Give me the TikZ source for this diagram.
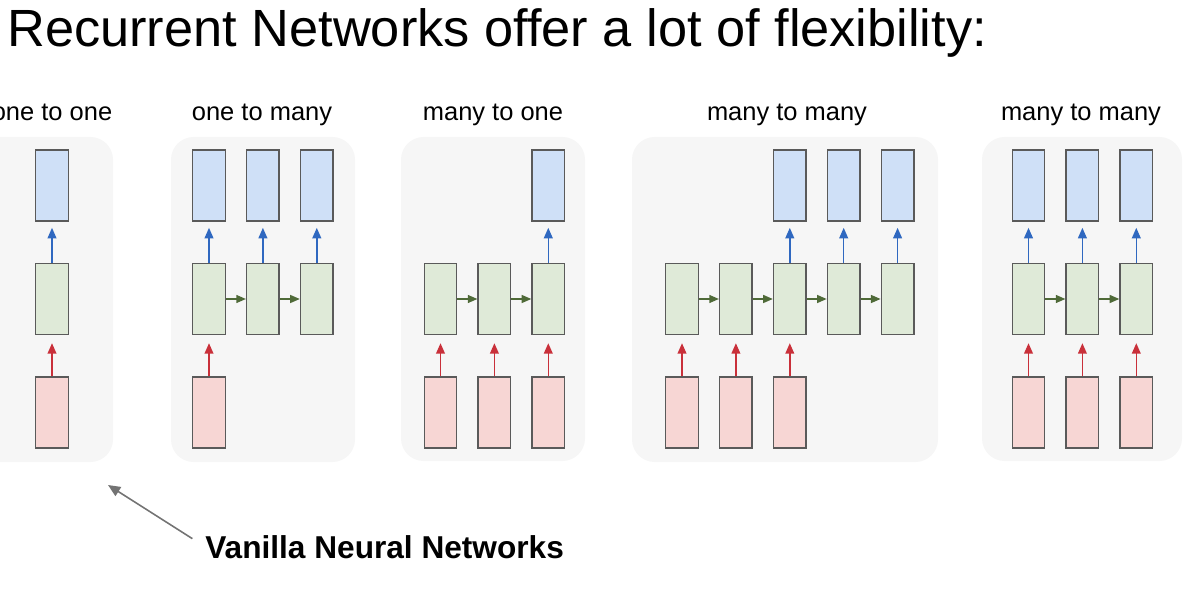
\documentclass[tikz,border=0pt]{standalone}
\usepackage{fontspec}
\setmainfont{Liberation Sans}
\usetikzlibrary{arrows.meta, positioning}

\definecolor{outblue}{HTML}{CFE0F7}
\definecolor{hidgreen}{HTML}{DFEAD8}
\definecolor{inred}{HTML}{F7D6D4}
\definecolor{panelgray}{HTML}{F6F6F6}
\definecolor{boxline}{HTML}{5A5A5A}
\definecolor{arrred}{HTML}{C9303A}
\definecolor{arrblue}{HTML}{2F68C0}
\definecolor{arrgreen}{HTML}{4F6A38}
\definecolor{pointgray}{HTML}{737373}

\begin{document}
\begin{tikzpicture}[x=0.02cm, y=-0.02cm, node distance=0.82cm and 0.4cm,
    cell/.style={rectangle, draw=boxline, line width=0.8pt, minimum width=0.65cm, minimum height=1.42cm, inner sep=0pt},
    outbox/.style={cell, fill=outblue},
    hidbox/.style={cell, fill=hidgreen},
    inbox/.style={cell, fill=inred},
    panel/.style={fill=panelgray, rounded corners=0.45cm},
    xarrow/.style={-{Triangle[length=6pt, width=5pt]}, line width=0.9pt, draw=arrred, shorten >=0.16cm},
    yarrow/.style={-{Triangle[length=6pt, width=5pt]}, line width=0.9pt, draw=arrblue, shorten >=0.12cm},
    harrow/.style={-{Triangle[length=5.5pt, width=4.5pt]}, line width=0.9pt, draw=arrgreen},
    head/.style={font=\fontsize{14.5}{17}\selectfont, anchor=base, inner sep=0pt}]
    \useasboundingbox (0,0) rectangle (1196,594);

    \node[anchor=base west, inner sep=0pt, font=\fontsize{29.8}{34}\selectfont] (title) at (7,47) {Recurrent Networks offer a lot of flexibility:};

    % background panels
    \fill[panel] (-30,137) rectangle (113,462);
    \fill[panel] (171,137) rectangle (355,462);
    \fill[panel] (401,137) rectangle (585,461);
    \fill[panel] (632,137) rectangle (938,462);
    \fill[panel] (982,137) rectangle (1182,461);

    % one to one
    \node[head] (t-a) at (52,121) {one to one};
    \node[hidbox] (a-h1) at (52,299) {};
    \node[outbox, above=of a-h1] (a-y1) {};
    \node[inbox, below=of a-h1] (a-x1) {};
    \draw[xarrow] (a-x1) -- (a-h1);
    \draw[yarrow] (a-h1) -- (a-y1);

    % one to many
    \node[head] (t-b) at (262,121) {one to many};
    \node[hidbox] (b-h1) at (209,299) {};
    \foreach \i [count=\j from 2] in {1,2}
        \node[hidbox, right=of b-h\i] (b-h\j) {};
    \foreach \i in {1,2,3} {
        \node[outbox, above=of b-h\i] (b-y\i) {};
        \draw[yarrow] (b-h\i) -- (b-y\i);
    }
    \node[inbox, below=of b-h1] (b-x1) {};
    \draw[xarrow] (b-x1) -- (b-h1);
    \foreach \i [count=\j from 2] in {1,2}
        \draw[harrow] (b-h\i) -- (b-h\j);

    % many to one
    \node[head] (t-c) at (493,121) {many to one};
    \node[hidbox] (c-h1) at (440.5,299) {};
    \foreach \i [count=\j from 2] in {1,2}
        \node[hidbox, right=of c-h\i] (c-h\j) {};
    \foreach \i in {1,2,3} {
        \node[inbox, below=of c-h\i] (c-x\i) {};
        \draw[xarrow] (c-x\i) -- (c-h\i);
    }
    \node[outbox, above=of c-h3] (c-y3) {};
    \draw[yarrow] (c-h3) -- (c-y3);
    \foreach \i [count=\j from 2] in {1,2}
        \draw[harrow] (c-h\i) -- (c-h\j);

    % many to many (delayed)
    \node[head] (t-d) at (787,121) {many to many};
    \node[hidbox] (d-h1) at (682,299) {};
    \foreach \i [count=\j from 2] in {1,...,4}
        \node[hidbox, right=of d-h\i] (d-h\j) {};
    \foreach \i in {1,2,3} {
        \node[inbox, below=of d-h\i] (d-x\i) {};
        \draw[xarrow] (d-x\i) -- (d-h\i);
    }
    \foreach \i in {3,4,5} {
        \node[outbox, above=of d-h\i] (d-y\i) {};
        \draw[yarrow] (d-h\i) -- (d-y\i);
    }
    \foreach \i [count=\j from 2] in {1,...,4}
        \draw[harrow] (d-h\i) -- (d-h\j);

    % many to many (synced)
    \node[head] (t-e) at (1081,121) {many to many};
    \node[hidbox] (e-h1) at (1028.5,299) {};
    \foreach \i [count=\j from 2] in {1,2}
        \node[hidbox, right=of e-h\i] (e-h\j) {};
    \foreach \i in {1,2,3} {
        \node[outbox, above=of e-h\i] (e-y\i) {};
        \node[inbox, below=of e-h\i] (e-x\i) {};
        \draw[xarrow] (e-x\i) -- (e-h\i);
        \draw[yarrow] (e-h\i) -- (e-y\i);
    }
    \foreach \i [count=\j from 2] in {1,2}
        \draw[harrow] (e-h\i) -- (e-h\j);

    % pointer to the plain net
    \node[anchor=base west, inner sep=0pt, font=\fontsize{18}{21}\selectfont\bfseries] (vanilla) at (205,558) {Vanilla Neural Networks};
    \coordinate (vtip) at (108,485);
    \draw[-{Triangle[length=7pt, width=6pt]}, line width=0.9pt, draw=pointgray, shorten <=0.3cm] (vanilla.west) -- (vtip);
\end{tikzpicture}
\end{document}
